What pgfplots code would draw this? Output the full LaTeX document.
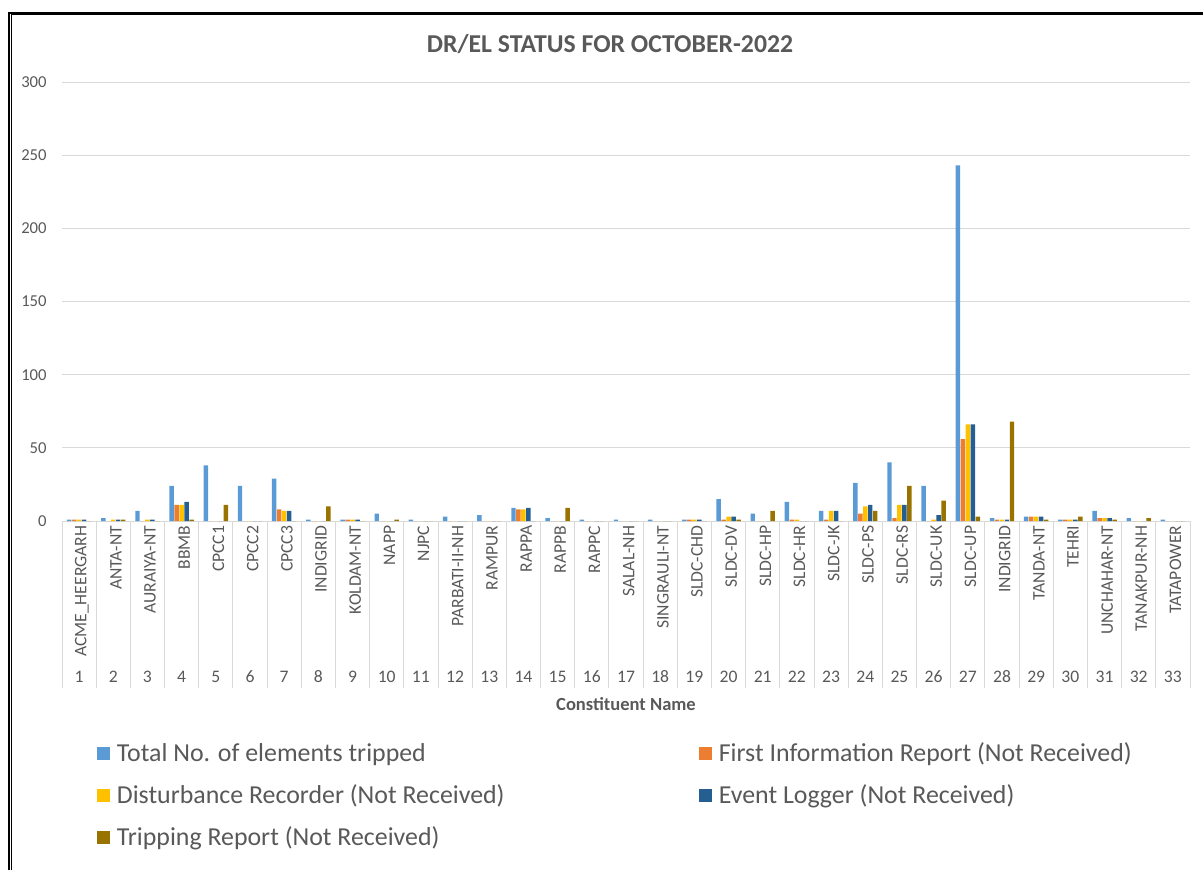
\documentclass[border=0pt]{standalone}
\usepackage{fontspec}
\setmainfont{Carlito}
\usepackage{pgfplots}
\usepackage{pgfplotstable}
\pgfplotsset{compat=1.18}
\definecolor{cBlue}{HTML}{5B9BD5}
\definecolor{cOrange}{HTML}{ED7D31}
\definecolor{cYellow}{HTML}{FFC000}
\definecolor{cDark}{HTML}{255E91}
\definecolor{cOlive}{HTML}{997300}
\definecolor{txt}{HTML}{595959}
\definecolor{gridc}{HTML}{D9D9D9}
\pgfplotstableread{
x tot fir dr el tr
1 1 1 1 1 0
2 2 0 1 1 1
3 7 0 1 1 0
4 24 11 11 13 1
5 38 0 0 0 11
6 24 0 0 0 0
7 29 8 7 7 0
8 1 0 0 0 10
9 1 1 1 1 0
10 5 0 0 0 1
11 1 0 0 0 0
12 3 0 0 0 0
13 4 0 0 0 0
14 9 8 8 9 0
15 2 0 0 0 9
16 1 0 0 0 0
17 1 0 0 0 0
18 1 0 0 0 0
19 1 1 1 1 0
20 15 1 3 3 1
21 5 0 0 0 7
22 13 1 1 0 0
23 7 1 7 7 0
24 26 5 10 11 7
25 40 2 11 11 24
26 24 0 1 4 14
27 243 56 66 66 3
28 2 1 1 1 68
29 3 3 3 3 1
30 1 1 1 1 3
31 7 2 2 2 1
32 2 0 0 0 2
33 1 0 0 0 0
}\data
\begin{document}
\begin{tikzpicture}
\useasboundingbox (0,0) rectangle (902.25pt,-652.5pt);
\draw[black, line width=1.5pt] (6.75pt,-652.5pt) -- (6.75pt,-9.75pt) -- (902.25pt,-9.75pt);
\draw[black, line width=0.75pt] (8.625pt,-652.5pt) -- (8.625pt,-11.25pt) -- (902.25pt,-11.25pt);
\node[font=\bfseries\fontsize{19.3}{22}\selectfont, text=txt] at (457.5pt,-33pt) {DR/EL STATUS FOR OCTOBER-2022};
\begin{axis}[
  at={(46.5pt,-390.75pt)}, anchor=south west,
  scale only axis, width=846pt, height=329.25pt,
  xmin=0.5, xmax=33.5, ymin=0, ymax=300,
  clip=false,
  ytick={0,50,...,300},
  ymajorgrids, grid style={draw=gridc, line width=0.75pt},
  axis x line*=bottom, axis y line*=left,
  x axis line style={draw=gridc, line width=0.75pt, -},
  y axis line style={draw=none},
  major tick length=0pt,
  xtick={1,...,33},
  xticklabels={ACME\_HEERGARH,ANTA-NT,AURAIYA-NT,BBMB,CPCC1,CPCC2,CPCC3,INDIGRID,KOLDAM-NT,NAPP,NJPC,PARBATI-II-NH,RAMPUR,RAPPA,RAPPB,RAPPC,SALAL-NH,SINGRAULI-NT,SLDC-CHD,SLDC-DV,SLDC-HP,SLDC-HR,SLDC-JK,SLDC-PS,SLDC-RS,SLDC-UK,SLDC-UP,INDIGRID,TANDA-NT,TEHRI,UNCHAHAR-NT,TANAKPUR-NH,TATAPOWER},
  xticklabel style={rotate=90, anchor=east, font=\fontsize{13.2}{15}\selectfont, text=txt, yshift=-2pt},
  yticklabel style={font=\fontsize{12.5}{14}\selectfont, text=txt, xshift=-8pt},
  /pgf/number format/assume math mode=true,
  extra x ticks={0.5,1.5,...,33.5}, extra x tick labels={},
  extra x tick style={grid=none, major tick length=125pt, tick align=outside, tick style={draw=gridc, line width=0.75pt}},
  legend columns=2,
  legend cell align=left,
  legend style={at={(0.031,-0.499)}, anchor=north west, draw=none, inner sep=0pt,
    font=\fontsize{19.4}{23}\selectfont, text=txt,
    row sep=11.8pt,
    /tikz/every odd column/.append style={column sep=3pt},
    /tikz/every even column/.append style={column sep=144pt}},
  legend image code/.code={\fill[#1] (0pt,-4.875pt) rectangle (9.75pt,4.875pt);},
]
\addplot[ybar, bar width=0.13, bar shift=-0.292, fill=cBlue, draw=none] table[x=x,y=tot]{\data};
\addplot[ybar, bar width=0.13, bar shift=-0.146, fill=cOrange, draw=none] table[x=x,y=fir]{\data};
\addplot[ybar, bar width=0.13, bar shift=0, fill=cYellow, draw=none] table[x=x,y=dr]{\data};
\addplot[ybar, bar width=0.13, bar shift=0.146, fill=cDark, draw=none] table[x=x,y=el]{\data};
\addplot[ybar, bar width=0.13, bar shift=0.292, fill=cOlive, draw=none] table[x=x,y=tr]{\data};
\legend{Total No. of elements tripped, First Information Report (Not Received), Disturbance Recorder (Not Received), Event Logger (Not Received), Tripping Report (Not Received)}
\pgfplotsinvokeforeach{1,...,33}{\node[font=\fontsize{13.2}{15}\selectfont, text=txt, yshift=-117pt] at (axis cs:#1,0) {#1};}
\end{axis}
\node[font=\bfseries\fontsize{13.9}{16}\selectfont, text=txt] at (469.5pt,-528pt) {Constituent Name};
\end{tikzpicture}
\end{document}
